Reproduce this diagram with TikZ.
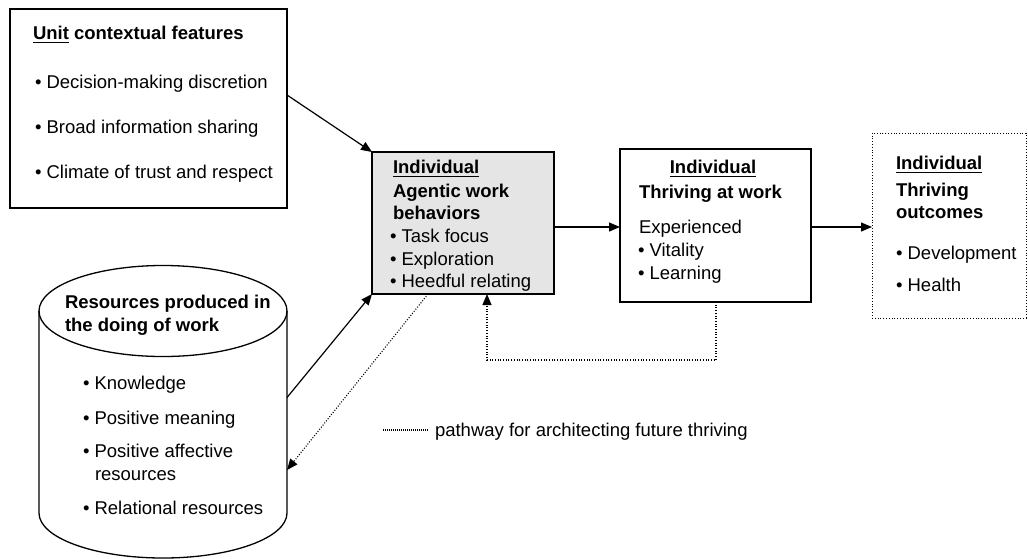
\documentclass[tikz,border=0pt]{standalone}
\usepackage{fontspec}
\setmainfont{Liberation Sans}
\usetikzlibrary{arrows.meta,calc}
\newcommand\myul[1]{\leavevmode\vtop{\hbox{#1}\kern2.6pt\hrule height 1.3pt}}
\begin{document}
\begin{tikzpicture}[x=1pt,y=-1pt,
  every node/.style={inner sep=0pt, outer sep=0pt},
  txt/.style={anchor=base west, font=\fontsize{18.5}{22}\selectfont},
  btxt/.style={anchor=base west, font=\fontsize{18.5}{22}\selectfont\bfseries},
  box/.style={draw, line width=1.3pt},
  conn/.style={line width=1.2pt},
  arr/.style={conn, -{Triangle[length=11pt,width=9pt]}},
  dots/.style={line width=1.1pt, dash pattern=on 1pt off 1.7pt},
]
\useasboundingbox (0,0) rectangle (1028,558);

% boxes
\node[box, minimum width=277pt, minimum height=199pt, anchor=north west] (b1) at (10,9) {};
\node[box, fill=black!10, minimum width=182pt, minimum height=142pt, anchor=north west] (b2) at (372,152) {};
\node[box, minimum width=191pt, minimum height=153pt, anchor=north west] (b3) at (620,149) {};
\node[draw, line width=1pt, dash pattern=on 1pt off 1.8pt, minimum width=154pt, minimum height=185pt, anchor=north west] (b4) at (872,133) {};

% cylinder
\node[minimum width=248pt, minimum height=291pt, anchor=north west] (cyl) at (39,266) {};
\draw[box] (39,311) -- (39,513) arc[start angle=180, end angle=0, x radius=124, y radius=45] -- (287,311);
\draw[box] (163,311) ellipse[x radius=124, y radius=45.5];

% box 1 text
\node[btxt] (t1a) at (33,39) {\myul{Unit} contextual features};
\node[txt] (t1b) at (35,88) {• Decision-making discretion};
\node[txt] (t1c) at (35,133) {• Broad information sharing};
\node[txt] (t1d) at (35,178) {• Climate of trust and respect};

% box 2 text
\node[btxt] (t2a) at (393,173) {\myul{Individual}};
\node[btxt] (t2b) at (393,197) {Agentic work};
\node[btxt] (t2c) at (393,219) {behaviors};
\node[txt] (t2d) at (390,242) {• Task focus};
\node[txt] (t2e) at (390,265) {• Exploration};
\node[txt] (t2f) at (390,287) {• Heedful relating};

% box 3 text
\node[btxt, anchor=base] (t3a) at (713,173) {\myul{Individual}};
\node[btxt] (t3b) at (639,198) {Thriving at work};
\node[txt] (t3c) at (639,233) {Experienced};
\node[txt] (t3d) at (638,256) {• Vitality};
\node[txt] (t3e) at (638,279) {• Learning};

% box 4 text
\node[btxt] (t4a) at (896,169) {\myul{Individual}};
\node[btxt] (t4b) at (896,196) {Thriving};
\node[btxt] (t4c) at (896,218) {outcomes};
\node[txt] (t4d) at (896,259) {• Development};
\node[txt] (t4e) at (896,291) {• Health};

% cylinder text
\node[btxt] (t5a) at (65,308) {Resources produced in};
\node[btxt] (t5b) at (65,331) {the doing of work};
\node[txt] (t5c) at (83,389) {• Knowledge};
\node[txt] (t5d) at (83,424) {• Positive meaning};
\node[txt] (t5e) at (83,457) {• Positive affective};
\node[txt] (t5f) at (95,480) {resources};
\node[txt] (t5g) at (83,514) {• Relational resources};

% legend
\node[txt] (leg) at (435,436) {pathway for architecting future thriving};
\coordinate (lg1) at (383,430);
\coordinate (lg2) at (428,430);
\draw[line width=1.1pt, dash pattern=on 1pt off 1pt] (lg1) -- (lg2);

% connectors
\draw[arr] ([yshift=13.5pt]b1.east) -- (b2.north west);
\draw[arr] ([yshift=14pt]cyl.east) -- (b2.south west);
\draw[dots, -{Triangle[length=11pt,width=9pt]}] ([xshift=-35pt]b2.south) -- ([yshift=-58.5pt]cyl.east);
\draw[arr] ([yshift=-4pt]b2.east) -- ([yshift=-4pt]b2.east -| b3.west);
\draw[arr] ([yshift=-1.5pt]b3.east) -- ([yshift=-1.5pt]b3.east -| b4.west);
\draw[dots, -{Triangle[length=11pt,width=9pt]}] ([xshift=0.5pt]b3.south) -- ++(0,58) -| ([xshift=24pt]b2.south);
\end{tikzpicture}
\end{document}
